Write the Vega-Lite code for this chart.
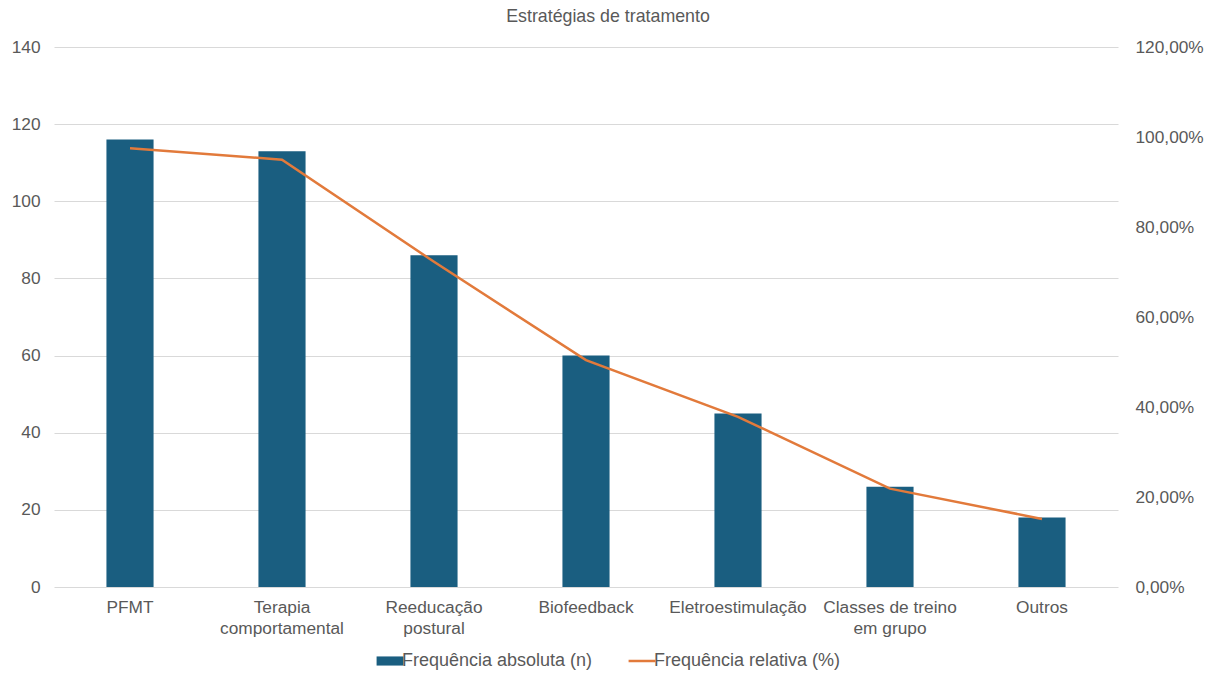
{
  "$schema": "https://vega.github.io/schema/vega-lite/v6.json",
  "width": 1064,
  "height": 540,
  "autosize": {"type": "none"},
  "padding": {"left": 54, "top": 47, "right": 98, "bottom": 86},
  "background": "white",
  "title": {
    "text": "Estratégias de tratamento",
    "fontSize": 17.8,
    "font": "Liberation Sans",
    "fontWeight": "normal",
    "color": "#595959",
    "anchor": "middle",
    "dx": 22,
    "offset": 12
  },
  "data": {
    "values": [
      {"estrategia": "PFMT", "n": 116, "relativa": 0.9748},
      {"estrategia": "Terapia comportamental", "n": 113, "relativa": 0.9496},
      {"estrategia": "Reeducação postural", "n": 86, "relativa": 0.7227},
      {"estrategia": "Biofeedback", "n": 60, "relativa": 0.5042},
      {"estrategia": "Eletroestimulação", "n": 45, "relativa": 0.3782},
      {"estrategia": "Classes de treino em grupo", "n": 26, "relativa": 0.2185},
      {"estrategia": "Outros", "n": 18, "relativa": 0.1513}
    ]
  },
  "encoding": {
    "x": {
      "field": "estrategia",
      "type": "nominal",
      "sort": null,
      "scale": {"paddingInner": 0.69, "paddingOuter": 0.345},
      "axis": {
        "title": null,
        "domain": false,
        "ticks": false,
        "grid": false,
        "labelAngle": 0,
        "labelPadding": 11,
        "labelLineHeight": 21,
        "labelExpr": "datum.label == 'Classes de treino em grupo' ? ['Classes de treino', 'em grupo'] : split(datum.label, ' ')"
      }
    }
  },
  "layer": [
    {
      "mark": {"type": "bar"},
      "encoding": {
        "y": {
          "field": "n",
          "type": "quantitative",
          "scale": {"domain": [0, 140], "nice": false},
          "axis": {
            "title": null,
            "values": [0, 20, 40, 60, 80, 100, 120, 140],
            "domain": false,
            "ticks": false,
            "grid": true,
            "gridColor": "#D9D9D9",
            "gridWidth": 1,
            "labelPadding": 14
          }
        },
        "color": {
          "datum": "Frequência absoluta (n)",
          "type": "nominal",
          "scale": {
            "domain": ["Frequência absoluta (n)", "Frequência relativa (%)"],
            "range": ["#1A5E80", "#E27A3B"]
          },
          "legend": {
            "title": null,
            "orient": "none",
            "legendX": 327,
            "legendY": 605,
            "direction": "horizontal",
            "symbolSize": 720,
            "labelOffset": 3,
            "labelLimit": 0,
            "columnPadding": 30,
            "labelFontSize": 18,
            "symbolType": "M-1,-0.34H1V0.34H-1Z",
            "encode": {
              "symbols": {
                "update": {
                  "shape": {"signal": "datum.value == 'Frequência relativa (%)' ? 'M-1,0H1' : 'M-1,-0.34H1V0.34H-1Z'"},
                  "fillOpacity": {"signal": "datum.value == 'Frequência relativa (%)' ? 0 : 1"},
                  "strokeWidth": {"signal": "datum.value == 'Frequência relativa (%)' ? 2.5 : 0"},
                  "stroke": {"signal": "datum.value == 'Frequência relativa (%)' ? '#E27A3B' : '#1A5E80'"},
                  "fill": {"signal": "datum.value == 'Frequência relativa (%)' ? '#E27A3B' : '#1A5E80'"}
                }
              }
            }
          }
        }
      }
    },
    {
      "mark": {"type": "line", "strokeWidth": 2.5},
      "encoding": {
        "y": {
          "field": "relativa",
          "type": "quantitative",
          "scale": {"domain": [0, 1.2], "nice": false},
          "axis": {
            "title": null,
            "orient": "right",
            "values": [0, 0.2, 0.4, 0.6, 0.8, 1.0, 1.2],
            "domain": false,
            "ticks": false,
            "grid": false,
            "labelPadding": 17,
            "labelExpr": "replace(format(datum.value, '.2%'), '.', ',')"
          }
        },
        "color": {"datum": "Frequência relativa (%)", "type": "nominal"}
      }
    }
  ],
  "resolve": {"scale": {"y": "independent"}},
  "config": {
    "font": "Liberation Sans",
    "view": {"stroke": null},
    "axis": {
      "labelFont": "Liberation Sans",
      "labelFontSize": 17.3,
      "labelColor": "#595959"
    },
    "legend": {
      "labelFont": "Liberation Sans",
      "labelColor": "#595959"
    }
  }
}
